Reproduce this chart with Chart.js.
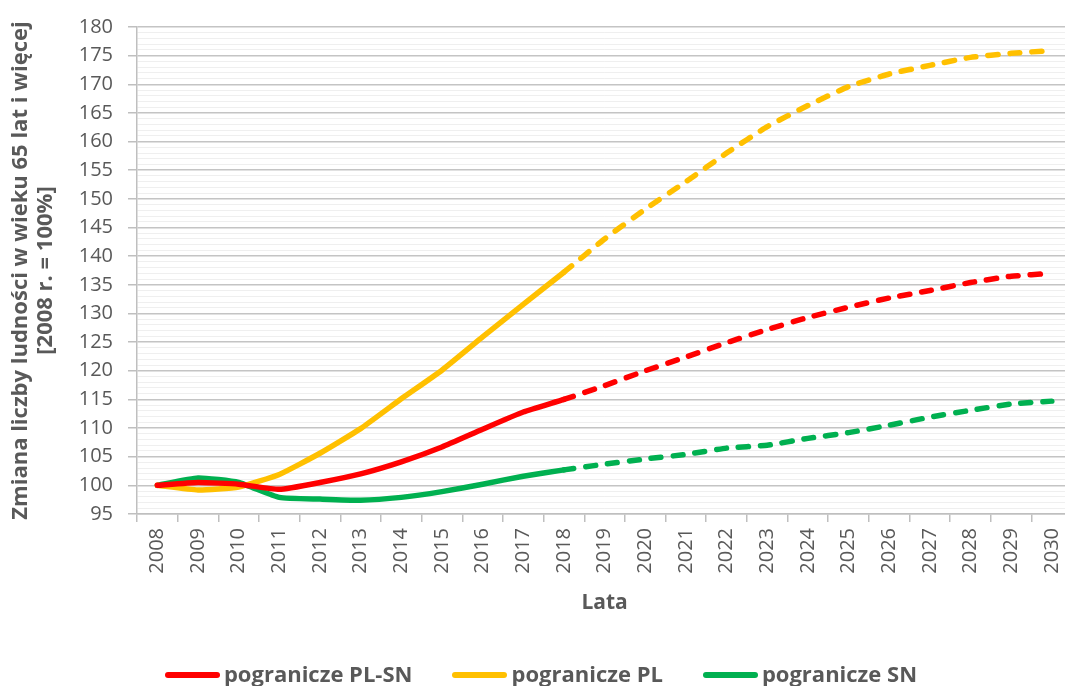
<!DOCTYPE html>
<html lang="pl">
<head>
<meta charset="utf-8">
<title>Zmiana liczby ludności w wieku 65 lat i więcej</title>
<script src="https://cdn.jsdelivr.net/npm/chart.js@4.4.1/dist/chart.umd.min.js"></script>
<style>
    html, body {
        margin: 0;
        padding: 0;
        background: #ffffff;
    }
    #wrap {
        position: relative;
        width: 1065px;
        height: 686px;
        overflow: hidden;
    }
    #chart {
        position: absolute;
        left: 0;
        top: 0;
    }
    #legend {
        position: absolute;
        left: 0;
        top: 659px;
        width: 1082px;
        display: flex;
        justify-content: center;
        gap: 40px;
        font-family: "Open Sans", sans-serif;
        font-weight: bold;
        font-size: 22px;
        color: #595959;
        line-height: 28px;
    }
    .legend-item {
        display: flex;
        align-items: center;
    }
    .legend-line {
        width: 55px;
        height: 6px;
        border-radius: 3px;
        margin-right: 4px;
        margin-top: 3px;
    }
</style>
</head>
<body>
<div id="wrap">
    <canvas id="chart" width="1082" height="686"></canvas>
    <div id="legend"></div>
</div>
<script>
// Years on the x axis
const years = ['2008', '2009', '2010', '2011', '2012', '2013', '2014', '2015', '2016', '2017', '2018',
    '2019', '2020', '2021', '2022', '2023', '2024', '2025', '2026', '2027', '2028', '2029', '2030'];

// Index (2008 = 100), 2019 onward is the forecast (dashed)
const plSn = [100, 100.5, 100.2, 99.3, 100.5, 102.0, 104.1, 106.7, 109.8, 112.8, 115.0,
    117.4, 120.0, 122.4, 124.9, 127.2, 129.3, 131.1, 132.7, 134.0, 135.4, 136.5, 137.0];
const pl = [100, 99.2, 99.7, 101.9, 105.6, 109.9, 115.1, 120.1, 125.9, 131.6, 137.2,
    143.0, 148.2, 153.0, 158.0, 162.6, 166.3, 169.6, 171.8, 173.3, 174.7, 175.4, 175.9];
const sn = [100, 101.3, 100.5, 97.9, 97.6, 97.4, 97.9, 98.9, 100.2, 101.6, 102.7,
    103.7, 104.6, 105.4, 106.5, 107.0, 108.2, 109.2, 110.5, 111.9, 113.1, 114.2, 114.7];

const seriesLabels = ['pogranicze PL-SN', 'pogranicze PL', 'pogranicze SN'];
const seriesColors = ['#ff0000', '#ffc000', '#00b050'];

const yMin = 95;
const yMax = 180;
const forecastStart = years.indexOf('2018');

const textColor = '#595959';
const axisColor = '#bfbfbf';

function makeDataset(label, values, color) {
    return {
        label: label,
        data: values,
        borderColor: color,
        backgroundColor: color,
        borderWidth: 5.5,
        borderCapStyle: 'round',
        borderJoinStyle: 'round',
        pointRadius: 0,
        tension: 0.15,
        segment: {
            borderDash: ctx => ctx.p0DataIndex >= forecastStart ? [10, 12] : undefined
        }
    };
}

function buildLegend(datasets) {
    const legend = document.getElementById('legend');
    legend.innerHTML = datasets.map(ds => `
        <div class="legend-item">
            <span class="legend-line" style="background:${ds.borderColor}"></span>
            <span>${ds.label}</span>
        </div>
    `).join('');
}

document.addEventListener('DOMContentLoaded', () => {
    const datasets = [
        makeDataset(seriesLabels[0], plSn, seriesColors[0]),
        makeDataset(seriesLabels[1], pl, seriesColors[1]),
        makeDataset(seriesLabels[2], sn, seriesColors[2])
    ];

    new Chart(document.getElementById('chart'), {
        type: 'line',
        data: {
            labels: years,
            datasets: datasets
        },
        options: {
            responsive: false,
            animation: false,
            layout: {
                padding: { left: 0, top: 26, right: 7, bottom: 70 }
            },
            plugins: {
                legend: { display: false },
                tooltip: { enabled: false }
            },
            scales: {
                x: {
                    type: 'category',
                    offset: true,
                    afterFit: scale => { scale.height = 102; },
                    grid: {
                        offset: true,
                        drawOnChartArea: false,
                        color: axisColor,
                        lineWidth: 1.5,
                        tickLength: 8
                    },
                    border: { color: axisColor, width: 1.5 },
                    ticks: {
                        autoSkip: false,
                        minRotation: 90,
                        maxRotation: 90,
                        padding: 6,
                        color: textColor,
                        font: { family: 'Open Sans', size: 20 }
                    },
                    title: {
                        display: true,
                        text: 'Lata',
                        color: textColor,
                        padding: { top: 0, bottom: 0 },
                        font: { family: 'Open Sans', size: 21, weight: 'bold', lineHeight: 1.2 }
                    }
                },
                y: {
                    min: yMin,
                    max: yMax,
                    afterFit: scale => { scale.width = 137; },
                    grid: {
                        color: ctx => ctx.tick && ctx.tick.value % 5 === 0 ? '#c4c4c4' : '#efefef',
                        lineWidth: ctx => ctx.tick && ctx.tick.value % 5 === 0 ? 1.5 : 1,
                        tickColor: ctx => ctx.tick && ctx.tick.value % 5 === 0 ? axisColor : 'rgba(0,0,0,0)',
                        tickLength: 9
                    },
                    border: { color: axisColor, width: 1.5 },
                    ticks: {
                        stepSize: 1,
                        autoSkip: false,
                        padding: 15,
                        color: textColor,
                        font: { family: 'Open Sans', size: 20 },
                        callback: value => value % 5 === 0 ? value : ''
                    },
                    title: {
                        display: true,
                        text: ['Zmiana liczby ludności w wieku 65 lat i więcej', '[2008 r. = 100%]'],
                        color: textColor,
                        padding: { top: 8, bottom: 0 },
                        font: { family: 'Open Sans', size: 22, weight: 'bold', lineHeight: 1.15 }
                    }
                }
            }
        }
    });

    buildLegend(datasets);
});
</script>
</body>
</html>
